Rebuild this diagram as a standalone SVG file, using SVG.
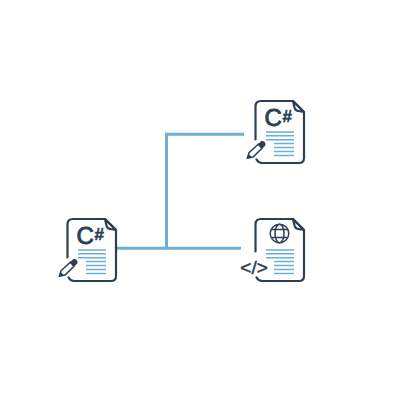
<svg xmlns="http://www.w3.org/2000/svg" width="400" height="400" viewBox="0 0 400 400">
<style>
.o{fill:none;stroke:#2b4054;stroke-width:2.2;stroke-linejoin:round;stroke-linecap:round}
.t{fill:none;stroke:#2b4054;stroke-width:1.5}
.l{fill:none;stroke:#6baed6;stroke-width:1.5}
.c{fill:none;stroke:#6baed6;stroke-width:3}
.f{fill:#2b4054;stroke:#2b4054;font-family:"Liberation Sans",Arial,sans-serif}
.big{font-size:24px;stroke-width:0.9}
.small{font-size:17px;font-weight:700;stroke-width:0.5}
</style>
<defs>
<g id="sheet">
<path class="o" d="M38 8.500L49 19.500M38 8.500L39.500 15Q40.500 18.500 43.500 18.500L49 19.500"/>
<path class="l" d="M11 39.500H39M11 43.300H39M11 47.200H39M19 51H39M19 55H39M19 59H39M19 63H39"/>
</g>
<g id="pencil">
<path class="o" style="stroke-width:1.5" d="M-6.500 5.200L3 -3.500L6.500 0.800L-2.500 9.600L-8.200 10.800Z"/>
<path d="M2.200 -3L5.900 -6.400Q7.500 -7 9 -5.800Q10.500 -4 9.900 -2L6.200 1.400Z" fill="#2b4054"/>
<path d="M-6.800 6.500L-3.800 9.500L-8.800 11.300Z" fill="#2b4054"/>
</g>
</defs>
<g id="connectors">
<path class="c" d="M244 134.300H166.500V248.300"/>
<path class="c" d="M116 248.300H241"/>
</g>
<g id="doc-top" transform="translate(255 92.500)">
<path class="o" d="M0.500 47V14Q0.500 8.500 6 8.500H38L49 19.500V65.500Q49 70.500 44 70.500H7Q3.500 70.500 1.500 67"/>
<use href="#sheet"/>
<use href="#pencil" transform="translate(0.500 55)"/>
<text class="f big" x="9.500" y="33.500">C</text>
<text class="f small" x="27.500" y="29">#</text>
</g>
<g id="doc-left" transform="translate(67 210.500)">
<path class="o" d="M0.500 47V14Q0.500 8.500 6 8.500H38L49 19.500V65.500Q49 70.500 44 70.500H7Q3.500 70.500 1.500 67"/>
<use href="#sheet"/>
<use href="#pencil" transform="translate(0.500 55)"/>
<text class="f big" x="9.500" y="33.500">C</text>
<text class="f small" x="27.500" y="29">#</text>
</g>
<g id="doc-web" transform="translate(255 210.500)">
<path class="o" d="M0.500 41V14Q0.500 8.500 6 8.500H38L49 19.500V65.500Q49 70.500 44 70.500H7Q3.500 70.500 1.500 67"/>
<use href="#sheet"/>
<circle class="t" cx="24.500" cy="23" r="9.300"/>
<ellipse class="t" cx="24.500" cy="23" rx="4.500" ry="9.300"/>
<path class="t" d="M16.500 19H32.500M16.500 27H32.500"/>
<text class="f" x="-14.700" y="63.500" font-size="19" stroke-width="0.5">&lt;/&gt;</text>
</g>
</svg>
